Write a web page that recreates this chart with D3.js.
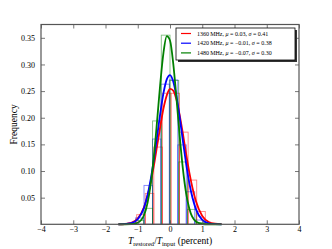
<!DOCTYPE html>
<html>
<head>
<meta charset="utf-8">
<script src="https://cdn.jsdelivr.net/npm/d3@7"></script>
<style>
    body { margin: 0; background: #fff; }
    svg text { font-family: 'Liberation Serif', 'DejaVu Serif', serif; fill: #000; }
</style>
</head>
<body>
<svg id="chart"></svg>
<script>
const width = 332;
const height = 249;
const margin = {top: 24.5, right: 33, bottom: 24.7, left: 41};

const xTicks = [-4, -3, -2, -1, 0, 1, 2, 3, 4];
const yTicks = [0.05, 0.10, 0.15, 0.20, 0.25, 0.30, 0.35];

// histogram bin edges (percent), each band has its own bins
const edgesRed   = [-1.30, -1.034, -0.768, -0.502, -0.236, 0.03, 0.296, 0.562, 0.828, 1.094];
const edgesBlue  = [-1.33, -1.068, -0.806, -0.544, -0.282, -0.02, 0.242, 0.504, 0.766, 1.028];
const edgesGreen = [-1.35, -1.08, -0.81, -0.54, -0.27, 0, 0.27, 0.54, 0.81, 1.08];

const histRed   = [0.003, 0.018, 0.058, 0.145, 0.246, 0.246, 0.173, 0.083, 0.024];
const histBlue  = [0.002, 0.012, 0.073, 0.160, 0.263, 0.271, 0.149, 0.061, 0.008];
const histGreen = [0.001, 0.007, 0.030, 0.194, 0.355, 0.270, 0.117, 0.028, 0.003];

// fitted curves
const curveX = [-1.6, -1.4, -1.2, -1.0, -0.8, -0.6, -0.5, -0.4, -0.3, -0.2, -0.1, 0,
                0.1, 0.2, 0.3, 0.4, 0.5, 0.6, 0.8, 1.0, 1.2, 1.4, 1.6];
const curveRed   = [0.0001, 0.0006, 0.0028, 0.011, 0.033, 0.078, 0.110, 0.147, 0.184, 0.218, 0.242, 0.254,
                    0.251, 0.234, 0.205, 0.170, 0.132, 0.097, 0.044, 0.0155, 0.0043, 0.001, 0.0002];
const curveBlue  = [0, 0.0003, 0.0021, 0.0094, 0.032, 0.084, 0.122, 0.165, 0.209, 0.247, 0.272, 0.280,
                    0.268, 0.240, 0.201, 0.156, 0.114, 0.077, 0.029, 0.0082, 0.0018, 0.0003, 0];
const curveGreen = [0, 0, 0.0003, 0.0029, 0.018, 0.075, 0.127, 0.194, 0.265, 0.323, 0.353, 0.345,
                    0.302, 0.237, 0.166, 0.104, 0.058, 0.029, 0.0053, 0.0006, 0.0001, 0, 0];

const labels = ['1360', '1420', '1480'];
const mus = ['0.03', '\u22120.01', '\u22120.07'];
const sigmas = ['0.41', '0.38', '0.30'];
const colors = ['#ff0000', '#0000ff', '#008000'];

const series = [
    {edges: edgesRed, hist: histRed, curve: curveRed},
    {edges: edgesBlue, hist: histBlue, curve: curveBlue},
    {edges: edgesGreen, hist: histGreen, curve: curveGreen}
];

const svg = d3.select('#chart')
    .attr('width', width)
    .attr('height', height);

const xScale = d3.scaleLinear()
    .domain([-4, 4])
    .range([margin.left, width - margin.right]);

const yScale = d3.scaleLinear()
    .domain([0, 0.375])
    .range([height - margin.bottom, margin.top]);

const fmtMinus = d => d < 0 ? '\u2212' + Math.abs(d) : String(d);

// histograms as open boxes
series.forEach((s, i) => {
    svg.append('g')
        .selectAll('rect')
        .data(s.hist)
        .enter()
        .append('rect')
        .attr('x', (d, j) => xScale(s.edges[j]))
        .attr('y', d => yScale(d))
        .attr('width', (d, j) => xScale(s.edges[j + 1]) - xScale(s.edges[j]))
        .attr('height', d => yScale(0) - yScale(d))
        .attr('fill', 'none')
        .attr('stroke', colors[i])
        .attr('stroke-opacity', 0.5)
        .attr('stroke-width', 0.9);
});

const line = d3.line()
    .x(d => xScale(d[0]))
    .y(d => yScale(d[1]))
    .curve(d3.curveMonotoneX);

series.forEach((s, i) => {
    svg.append('path')
        .datum(curveX.map((x, j) => [x, s.curve[j]]))
        .attr('d', line)
        .attr('fill', 'none')
        .attr('stroke', colors[i])
        .attr('stroke-width', 1.8);
});

// axes: inward ticks on all four sides
const tickLen = 4;
const axisColor = '#555';

const xAxisBottom = d3.axisBottom(xScale).tickValues(xTicks).tickSizeInner(-tickLen).tickSizeOuter(0)
    .tickPadding(2).tickFormat(fmtMinus);
const xAxisTop = d3.axisTop(xScale).tickValues(xTicks).tickSizeInner(-tickLen).tickSizeOuter(0).tickFormat('');
const yAxisLeft = d3.axisLeft(yScale).tickValues(yTicks).tickSizeInner(-tickLen).tickSizeOuter(0)
    .tickPadding(6).tickFormat(d3.format('.2f'));
const yAxisRight = d3.axisRight(yScale).tickValues(yTicks).tickSizeInner(-tickLen).tickSizeOuter(0).tickFormat('');

const styleAxis = g => {
    g.select('.domain').remove();
    g.selectAll('.tick line').attr('stroke', axisColor).attr('stroke-width', 0.8);
    g.selectAll('.tick text')
        .style('font-family', "'Liberation Serif', 'DejaVu Serif', serif")
        .style('font-size', '8px')
        .attr('fill', '#000');
};

svg.append('g')
    .attr('transform', `translate(0, ${height - margin.bottom})`)
    .call(xAxisBottom)
    .call(styleAxis);

svg.append('g')
    .attr('transform', `translate(0, ${margin.top})`)
    .call(xAxisTop)
    .call(styleAxis);

svg.append('g')
    .attr('transform', `translate(${margin.left}, 0)`)
    .call(yAxisLeft)
    .call(styleAxis);

svg.append('g')
    .attr('transform', `translate(${width - margin.right}, 0)`)
    .call(yAxisRight)
    .call(styleAxis);

svg.append('rect')
    .attr('x', margin.left)
    .attr('y', margin.top)
    .attr('width', width - margin.left - margin.right)
    .attr('height', height - margin.top - margin.bottom)
    .attr('fill', 'none')
    .attr('stroke', axisColor)
    .attr('stroke-width', 1.2);

// axis labels
svg.append('text')
    .attr('transform', `translate(17, ${(margin.top + height - margin.bottom) / 2}) rotate(-90)`)
    .attr('text-anchor', 'middle')
    .style('font-size', '9.5px')
    .text('Frequency');

const xLabel = svg.append('text')
    .attr('x', (margin.left + width - margin.right) / 2)
    .attr('y', 244)
    .attr('text-anchor', 'middle')
    .style('font-size', '9.5px');
xLabel.append('tspan').style('font-style', 'italic').text('T');
xLabel.append('tspan').attr('dy', 1.8).style('font-size', '6.5px').text('restored');
xLabel.append('tspan').attr('dy', -1.8).text('/');
xLabel.append('tspan').style('font-style', 'italic').text('T');
xLabel.append('tspan').attr('dy', 1.8).style('font-size', '6.5px').text('input');
xLabel.append('tspan').attr('dy', -1.8).text(' (percent)');

// legend with shadow
const legend = {x: 176, y: 28, w: 119, h: 32};

svg.append('rect')
    .attr('x', legend.x + 2)
    .attr('y', legend.y + 2)
    .attr('width', legend.w)
    .attr('height', legend.h)
    .attr('fill', '#333');

svg.append('rect')
    .attr('x', legend.x)
    .attr('y', legend.y)
    .attr('width', legend.w)
    .attr('height', legend.h)
    .attr('fill', '#fff')
    .attr('stroke', '#000')
    .attr('stroke-width', 0.8);

labels.forEach((lab, i) => {
    const yy = legend.y + 5.5 + i * 9.7;

    svg.append('line')
        .attr('x1', legend.x + 5)
        .attr('x2', legend.x + 15)
        .attr('y1', yy)
        .attr('y2', yy)
        .attr('stroke', colors[i])
        .attr('stroke-width', 1.2);

    const t = svg.append('text')
        .attr('x', legend.x + 21)
        .attr('y', yy + 2)
        .style('font-size', '6px');
    t.append('tspan').text(`${lab}\u2009MHz, `);
    t.append('tspan').style('font-style', 'italic').text('\u03bc');
    t.append('tspan').text(` = ${mus[i]}, `);
    t.append('tspan').style('font-style', 'italic').text('\u03c3');
    t.append('tspan').text(` = ${sigmas[i]}`);
});
</script>
</body>
</html>
